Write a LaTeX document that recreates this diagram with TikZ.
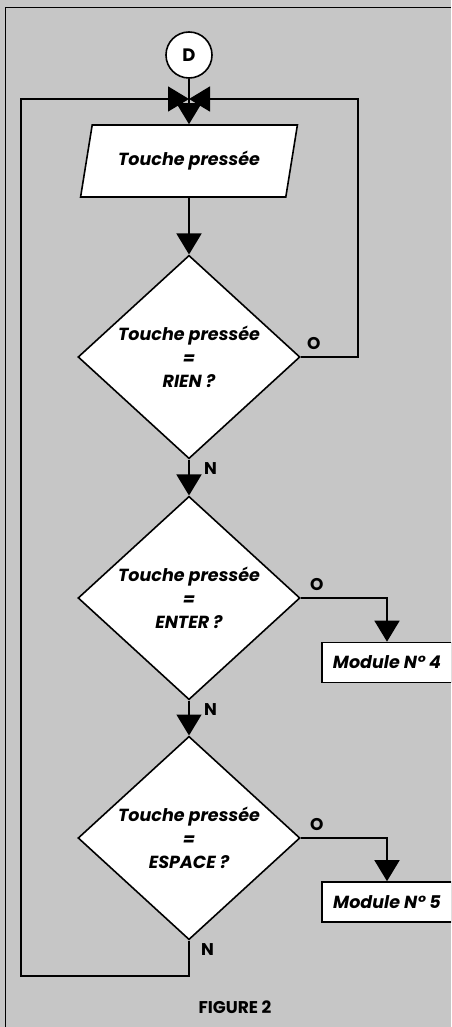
\documentclass[tikz,border=0pt]{standalone}
\usepackage{fontspec}
\setmainfont{Poppins}
\usetikzlibrary{shapes.geometric, arrows.meta, positioning}
\definecolor{papier}{RGB}{198,198,198}

\begin{document}
\begin{tikzpicture}[x=1pt, y=-1pt,
			>={Triangle[length=21pt,width=25pt]},   %Pfeilspitzen
			linie/.style={line width=1.6pt},
			schrift/.style={font=\bfseries\itshape\fontsize{17.5}{23.5}\selectfont},
			raute/.style={draw, diamond, fill=white, linie, schrift, inner sep=0pt, align=center, minimum width=222pt, minimum height=200pt},
			eingabe/.style={draw, trapezium, trapezium left angle=71, trapezium right angle=109, trapezium stretches=true, fill=white, linie, schrift, minimum width=217pt, minimum height=72pt},
			kasten/.style={draw, rectangle, fill=white, linie, schrift, minimum width=130pt, minimum height=40pt},
			marke/.style={font=\bfseries\fontsize{17}{17}\selectfont, inner sep=0pt}]
			%Hintergrund
			\fill[papier] (0,0) rectangle (451,1027);
			\useasboundingbox (0,0) rectangle (451,1027);
			\clip (0,0) rectangle (451,1027);
			\draw[line width=1pt] (5,1027) -- (5,8) -- (451,8);
			% Knoten
			\node[draw, circle, fill=white, linie, minimum size=46pt, inner sep=0pt, font=\bfseries\fontsize{18}{18}\selectfont] (d) at (189,55) {D};
			\coordinate (merge) at (189,99);
			\coordinate (rechts) at (358,99);
			\coordinate (links) at (21,976);
			\node[eingabe] (touche) at (189,161) {Touche pressée};
			\node[raute] (rien) at (189,357) {Touche pressée\\=\\RIEN ?};
			\node[raute] (enter) at (189,598) {Touche pressée\\=\\ENTER ?};
			\node[raute] (espace) at (189,838) {Touche pressée\\=\\ESPACE ?};
			\node[kasten] (mod4) at (387,662.5) {Module N° 4};
			\node[kasten] (mod5) at (387,902) {Module N° 5};
			% Verbindungen
			\draw[linie,->] (d) -- (touche);
			\draw[linie,->] (touche) -- (rien);
			\draw[linie,->] (rien) -- (enter);
			\draw[linie,->] (enter) -- (espace);
			\draw[linie,->] (rien.east) -| (rechts) -- (merge);
			\draw[linie,->] (espace.south) |- (links) |- (merge);
			\draw[linie,->] (enter.east) -| (mod4.north);
			\draw[linie,->] (espace.east) -| (mod5.north);
			% Beschriftung
			\node[marke, above right=7pt and 6pt of rien.east] (o1) {O};
			\node[marke, above right=7pt and 9pt of enter.east] (o2) {O};
			\node[marke, above right=7pt and 9pt of espace.east] (o3) {O};
			\node[marke, below right=3pt and 15pt of rien.south] (n1) {N};
			\node[marke, below right=3pt and 15pt of enter.south] (n2) {N};
			\node[marke, below right=3pt and 12pt of espace.south] (n3) {N};
			\node[marke] (titel) at (235,1007) {FIGURE 2};
		\end{tikzpicture}
\end{document}
